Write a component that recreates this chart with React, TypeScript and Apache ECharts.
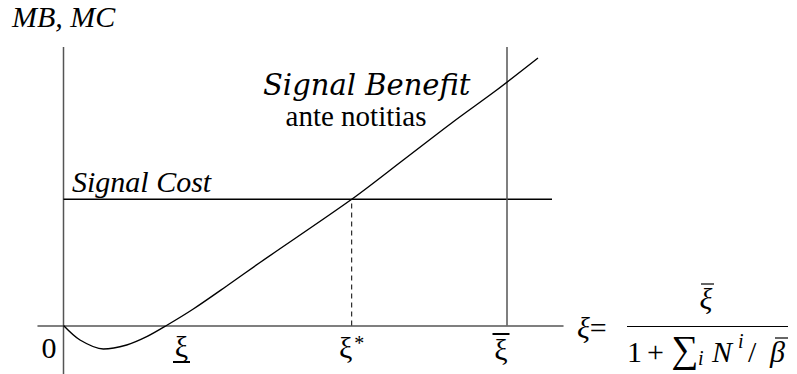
import React, { useEffect, useRef } from "react";
import * as echarts from "echarts";

// ---- values (arbitrary units, origin at the axes' crossing) ----
const XI_LOW = 1.03; // ξ̲ : benefit curve crosses zero
const XI_STAR = 2.882; // ξ* : benefit meets cost
const XI_BAR = 4.435; // ξ̄
const SIGNAL_COST = 1.262;
const Y_TOP = 2.785;
const Y_BOTTOM = -0.485; // lower end of the vertical axis
const COST_END = 4.885;

const benefitX = [0, 0.165, 0.398, 0.632, 0.832, 1.03, 1.298, 1.632, 1.965, 2.882, 3.398, 3.898, 4.332, 4.745];
const benefitY = [0, -0.145, -0.235, -0.195, -0.112, 0, 0.165, 0.395, 0.63, 1.262, 1.655, 2.038, 2.355, 2.675];

const tickValues = [0, XI_LOW, XI_STAR, XI_BAR];
const tickNames = ["zero", "low", "star", "bar"];

const X_MIN = -0.255;
const X_MAX = 4.995;

const SERIF = "Liberation Serif";
const WIDE_SERIF = "DejaVu Serif";
const INK = "#000";
const AXIS = "#555";

export default function App() {
  const ref = useRef<HTMLDivElement>(null);

  useEffect(() => {
    if (!ref.current) return;
    const chart = echarts.init(ref.current, undefined, { renderer: "svg" });

    const curve = benefitX.map((x, i) => [x, benefitY[i]]);
    const labelFor = (v: number) => {
      const idx = tickValues.findIndex((t) => Math.abs(t - v) < 1e-6);
      const name = tickNames[idx];
      if (name === "zero") return "{zero|0}";
      if (name === "low") return "{sp|}{xi|ξ}\n{sp|}{bar|}";
      if (name === "star") return "{xi|ξ}{sup|*}";
      if (name === "bar") return "{bar|}{sp2|}\n{xi|ξ}{sp2|}";
      return "";
    };

    const txt = (text: string, x: number, y: number, opts: any = {}) => ({
      type: "text",
      x,
      y,
      style: {
        text: "{t|" + text + "}",
        align: opts.align ?? "left",
        verticalAlign: "middle",
        rich: {
          t: {
            fontFamily: opts.family ?? SERIF,
            fontSize: opts.size ?? 30,
            fontStyle: opts.italic ? "italic" : "normal",
            fill: INK,
          },
        },
      },
    });

    chart.setOption({
      animation: false,
      grid: {
        left: 38,
        top: 47,
        width: 525,
        height: 278.5,
        containLabel: false,
        outerBoundsMode: "none",
      },
      xAxis: {
        type: "value",
        min: X_MIN,
        max: X_MAX,
        axisLine: { show: true, onZero: false, lineStyle: { color: AXIS, width: 1.5 } },
        axisTick: { show: false },
        splitLine: { show: false },
        axisLabel: {
          show: true,
          customValues: tickValues,
          margin: 7,
          color: INK,
          formatter: (v: number) => labelFor(v),
          rich: {
            zero: { fontFamily: SERIF, fontSize: 30, color: INK, padding: [0, 29, 0, 0], lineHeight: 30 },
            xi: { fontFamily: SERIF, fontSize: 30, color: INK, lineHeight: 28 },
            sp: { width: 30, height: 2 },
            sp2: { width: 12, height: 2 },
            bar: { width: 17, height: 2, lineHeight: 3, backgroundColor: INK },
            sup: { fontFamily: SERIF, fontSize: 20, color: INK, verticalAlign: "top", lineHeight: 30, padding: [0, 0, 8, 2] },
          },
        },
      },
      yAxis: {
        type: "value",
        min: 0,
        max: Y_TOP,
        axisLine: { show: false },
        axisTick: { show: false },
        splitLine: { show: false },
        axisLabel: { show: false },
      },
      series: [
        {
          name: "vertical axis",
          type: "line",
          data: [
            [0, Y_BOTTOM],
            [0, Y_TOP],
          ],
          clip: false,
          showSymbol: false,
          lineStyle: { color: AXIS, width: 1.5 },
        },
        {
          name: "Signal Benefit",
          type: "line",
          data: curve,
          smooth: 0.3,
          clip: false,
          showSymbol: false,
          lineStyle: { color: INK, width: 1.4 },
          z: 5,
        },
        {
          name: "Signal Cost",
          type: "line",
          data: [
            [0, SIGNAL_COST],
            [COST_END, SIGNAL_COST],
          ],
          showSymbol: false,
          lineStyle: { color: INK, width: 1.4 },
        },
        {
          name: "xi star",
          type: "line",
          data: [
            [XI_STAR, 0],
            [XI_STAR, SIGNAL_COST],
          ],
          showSymbol: false,
          lineStyle: { color: INK, width: 1, type: [5, 4] },
        },
        {
          name: "xi bar",
          type: "line",
          data: [
            [XI_BAR, 0],
            [XI_BAR, Y_TOP],
          ],
          showSymbol: false,
          lineStyle: { color: AXIS, width: 1.5 },
        },
      ],
      graphic: [
        txt("MB, MC", 12, 16, { italic: true }),
        txt("Signal Benefit", 263, 85, { italic: true, family: WIDE_SERIF, size: 29 }),
        txt("ante notitias", 356, 116, { align: "center", size: 29 }),
        txt("Signal Cost", 72, 181, { italic: true }),
        // ξ = fraction
        {
          type: "text",
          x: 577,
          y: 327,
          style: {
            text: "{it|ξ}{n|=}",
            verticalAlign: "middle",
            align: "left",
            rich: {
              it: { fontFamily: SERIF, fontStyle: "italic", fontSize: 30, fill: INK },
              n: { fontFamily: SERIF, fontSize: 30, fill: INK },
            },
          },
        },
        txt("ξ", 706, 298, { italic: true, align: "center" }),
        { type: "line", shape: { x1: 701, y1: 284, x2: 714, y2: 284 }, style: { stroke: INK, lineWidth: 1.2 } },
        { type: "line", shape: { x1: 627, y1: 326.5, x2: 788, y2: 326.5 }, style: { stroke: INK, lineWidth: 1.2 } },
        txt("1", 627, 351),
        txt("+", 647, 351),
        txt("∑", 685, 349, { align: "center", size: 38 }),
        txt("i", 698, 358, { italic: true, size: 20 }),
        txt("N", 712, 351, { italic: true }),
        txt("i", 738, 341, { italic: true, size: 20 }),
        txt("/", 748, 351),
        txt("β", 770, 351, { italic: true }),
        { type: "line", shape: { x1: 775, y1: 338, x2: 788, y2: 338 }, style: { stroke: INK, lineWidth: 1.2 } },
      ],
    });

    return () => chart.dispose();
  }, []);

  return (
    <div
      ref={ref}
      style={{ position: "absolute", left: 0, top: 0, width: 797, height: 374, background: "#fff" }}
    />
  );
}
